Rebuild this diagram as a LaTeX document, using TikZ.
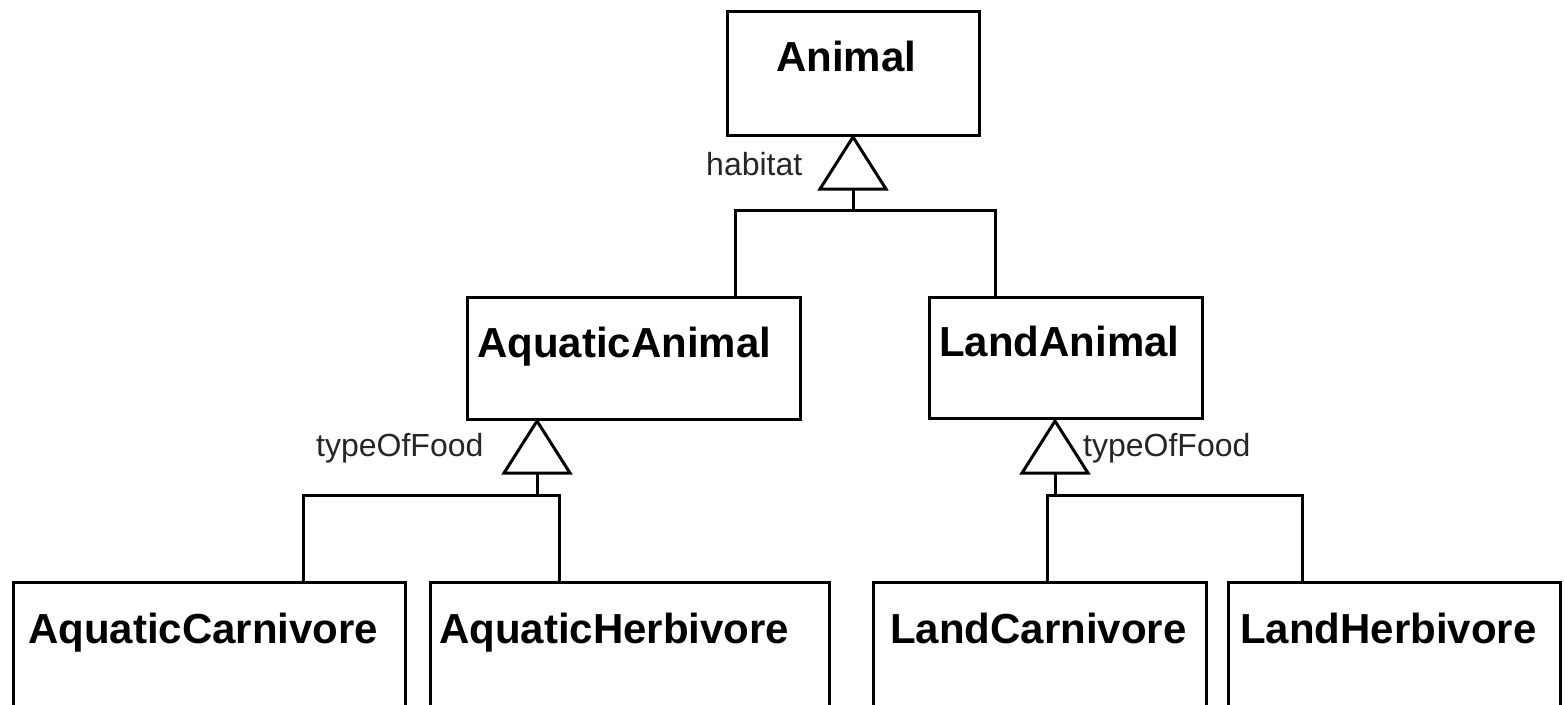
\documentclass[tikz,border=0pt]{standalone}
\usepackage{fontspec}
\setmainfont{Liberation Sans}
\usetikzlibrary{calc}
\begin{document}
\begin{tikzpicture}[x=1pt,y=-1pt,
  classbox/.style={draw=black,line width=3pt,rectangle,inner sep=0pt,
    minimum width=#1},
  classname/.style={inner sep=0pt,anchor=base west,
    font=\fontsize{42}{50}\selectfont\bfseries},
  rolename/.style={inner sep=0pt,anchor=base west,text=black!85,
    font=\fontsize{32}{38}\selectfont},
  conn/.style={line width=3pt,line join=miter,line cap=rect},
  gen/.style={line width=3pt,line join=miter}]
\useasboundingbox (0,0) rectangle (1565,704);
\clip (0,0) rectangle (1565,704);
\fill[white] (0,0) rectangle (1565,704);

% class boxes
\node[classbox=252pt,minimum height=124pt] (animal)  at (853,73) {};
\node[classbox=333pt,minimum height=122pt] (aquatic) at (633.5,358) {};
\node[classbox=273pt,minimum height=121pt] (land)    at (1065.5,357.5) {};
\node[classbox=392pt,minimum height=138pt] (acarn)   at (209,651) {};
\node[classbox=399pt,minimum height=138pt] (aherb)   at (629.5,651) {};
\node[classbox=333pt,minimum height=138pt] (lcarn)   at (1039.5,651) {};
\node[classbox=332pt,minimum height=138pt] (lherb)   at (1394,651) {};

% class names
\node[classname] (animal-t)  at (776,71)  {Animal};
\node[classname] (aquatic-t) at (477,357) {AquaticAnimal};
\node[classname] (land-t)    at (939,356) {LandAnimal};
\node[classname] (acarn-t)   at (28,643)  {AquaticCarnivore};
\node[classname] (aherb-t)   at (439,643) {AquaticHerbivore};
\node[classname] (lcarn-t)   at (890,643) {LandCarnivore};
\node[classname] (lherb-t)   at (1240,643) {LandHerbivore};

% generalisation triangles (apex on the superclass)
\coordinate (habApex) at (853,137);
\coordinate (aqApex)  at (537,421);
\coordinate (laApex)  at (1055,421);
\foreach \a in {habApex,aqApex,laApex}
  \draw[gen,fill=white] (\a) -- ++(-33,52) -- ++(66,0) -- cycle;

% habitat: Animal -> AquaticAnimal, LandAnimal
\coordinate (habBase) at ($(habApex)+(0,52)$);
\coordinate (habS) at (853,210);
\coordinate (habL) at (735,210);
\coordinate (habR) at (995,210);
\draw[conn] (habBase) -- (habS);
\draw[conn] (aquatic.north -| habL) -- (habL) -- (habR) -- (land.north -| habR);

% typeOfFood: AquaticAnimal -> AquaticCarnivore, AquaticHerbivore
\coordinate (aqBase) at ($(aqApex)+(0,52)$);
\coordinate (aqS) at (537,495);
\coordinate (aqL) at (303,495);
\coordinate (aqR) at (559,495);
\draw[conn] (aqBase) -- (aqS);
\draw[conn] (acarn.north -| aqL) -- (aqL) -- (aqR) -- (aherb.north -| aqR);

% typeOfFood: LandAnimal -> LandCarnivore, LandHerbivore
\coordinate (laBase) at ($(laApex)+(0,52)$);
\coordinate (laS) at (1055,495);
\coordinate (laL) at (1047,495);
\coordinate (laR) at (1302,495);
\draw[conn] (laBase) -- (laS);
\draw[conn] (lcarn.north -| laL) -- (laL) -- (laR) -- (lherb.north -| laR);

% discriminator labels
\node[rolename] (hab-l)  at (706,175)  {habitat};
\node[rolename] (aqf-l)  at (316,456)  {typeOfFood};
\node[rolename] (laf-l)  at (1083,456) {typeOfFood};
\end{tikzpicture}
\end{document}
